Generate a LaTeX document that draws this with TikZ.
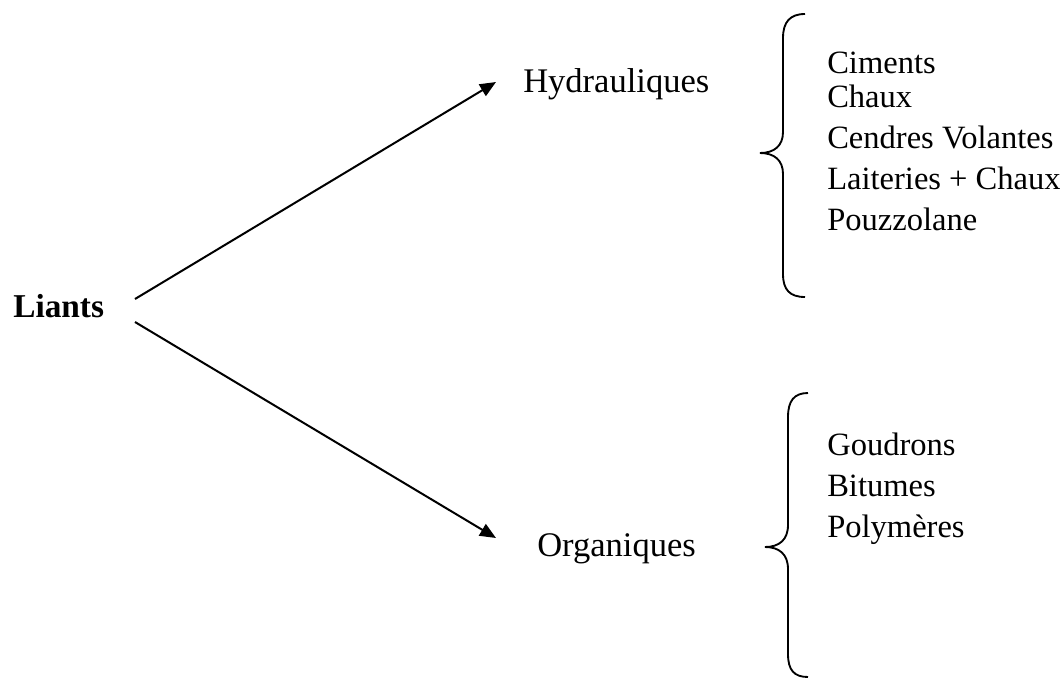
\documentclass[tikz,border=0pt]{standalone}
\usepackage{fontspec}
\setmainfont{Liberation Serif}
\usetikzlibrary{arrows.meta}
\begin{document}
\begin{tikzpicture}[x=0.75pt,y=-0.75pt,
  item/.style={anchor=base west,inner sep=0pt,font=\fontsize{24.4}{28}\selectfont},
  label/.style={anchor=base west,inner sep=0pt,font=\fontsize{25.9}{30}\selectfont},
  conn/.style={line width=1.5pt,-{Triangle[length=12pt,width=10pt]}},
  brace/.style={line width=1.4pt}]
\useasboundingbox (0,0) rectangle (1060,679);
% main nodes
\node[label,font=\fontsize{25}{30}\selectfont\bfseries] (liants) at (13,317) {Liants};
\node[label] (hyd) at (523,92) {Hydrauliques};
\node[label] (org) at (537,556) {Organiques};
% connectors
\coordinate (s1) at (135,299);
\coordinate (e1) at (496,82);
\coordinate (s2) at (135,322);
\coordinate (e2) at (496,538);
\draw[conn] (s1) -- (e1);
\draw[conn] (s2) -- (e2);
% top brace
\draw[brace] (805,14) .. controls (790,14) and (783,22) .. (783,38)
  -- (783,132) .. controls (783,146) and (774,153) .. (760,153)
  .. controls (774,153) and (783,160) .. (783,174)
  -- (783,274) .. controls (783,290) and (790,297) .. (805,297);
% bottom brace
\draw[brace] (808,393) .. controls (794,393) and (788,401) .. (788,417)
  -- (788,525) .. controls (788,540) and (779,547) .. (765,547)
  .. controls (779,547) and (788,554) .. (788,569)
  -- (788,654) .. controls (788,670) and (794,677) .. (808,677);
% lists
\node[item] (i1) at (827,73) {Ciments};
\node[item] (i2) at (827,107) {Chaux};
\node[item] (i3) at (827,148) {Cendres Volantes};
\node[item] (i4) at (827,189) {Laiteries + Chaux};
\node[item] (i5) at (827,230) {Pouzzolane};
\node[item] (j1) at (827,455) {Goudrons};
\node[item] (j2) at (827,496) {Bitumes};
\node[item] (j3) at (827,537) {Polymères};
\end{tikzpicture}
\end{document}
